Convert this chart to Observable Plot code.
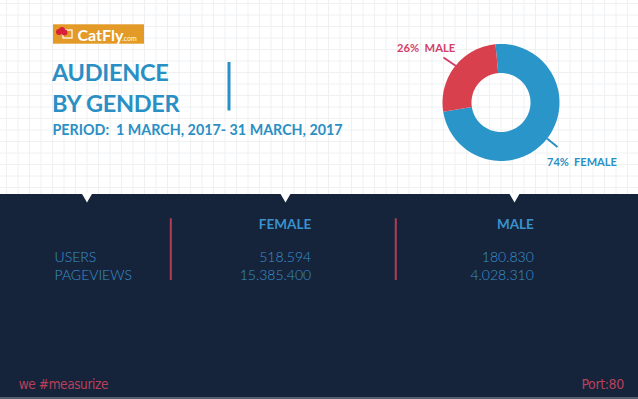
<!DOCTYPE html>
<html>
<head>
<meta charset="utf-8">
<script src="https://cdn.jsdelivr.net/npm/d3@7"></script>
<script src="https://cdn.jsdelivr.net/npm/@observablehq/plot@0.6"></script>
<style>
  html, body { margin: 0; padding: 0; background: #ffffff; }
  #chart svg { display: block; }
  .footer text { letter-spacing: -0.4px; }
  .tight text { letter-spacing: -0.3px; }
</style>
</head>
<body>
<div id="chart"></div>
<script>
// ---- data ----
const genders = ["FEMALE", "MALE"];
const shares = [74, 26];
const genderColors = ["#2a95c9", "#d8404e"];
const metrics = ["USERS", "PAGEVIEWS"];
const femaleValues = ["518.594", "15.385.400"];
const maleValues = ["180.830", "4.028.310"];
const titleLines = ["AUDIENCE", "BY GENDER"];
const periodText = "PERIOD:  1 MARCH, 2017- 31 MARCH, 2017";
const brandName = "CatFly";
const footerLeft = "we #measurize";
const footerRight = "Port:80";

// ---- layout ----
const W = 638, H = 399;
const panelTop = 194;
const cx = 500.5, cy = 102, rOuter = 58.5, rInner = 29.5;
const startDeg = -5.4;

// donut polygons computed from shares
const total = d3.sum(shares);
const slices = [];
let a0 = startDeg;
genders.forEach((g, i) => {
  const a1 = a0 + shares[i] / total * 360;
  const n = 90;
  const pts = [];
  for (let k = 0; k <= n; k++) {
    const a = (a0 + (a1 - a0) * k / n) * Math.PI / 180;
    pts.push({g, x: cx + rOuter * Math.sin(a), y: cy - rOuter * Math.cos(a)});
  }
  for (let k = n; k >= 0; k--) {
    const a = (a0 + (a1 - a0) * k / n) * Math.PI / 180;
    pts.push({g, x: cx + rInner * Math.sin(a), y: cy - rInner * Math.cos(a)});
  }
  slices.push(...pts);
  a0 = a1;
});

const gridX = d3.range(6, W, 11.5);
const gridY = d3.range(3, panelTop, 11.5);

const fontMain = "'Lato', 'Open Sans', sans-serif";
const fontNarrow = "'Liberation Sans Narrow', 'DejaVu Sans Condensed', sans-serif";
const blue = "#2a8fc4";
const tblBlue = "#3a92cc";
const pink = "#d23f6a";
const footPink = "#b8405a";

const chart = Plot.plot({
  width: W, height: H,
  margin: 0,
  x: {domain: [0, W], range: [0, W], axis: null},
  y: {domain: [0, H], range: [0, H], axis: null},
  style: {background: "#ffffff", overflow: "visible"},
  marks: [
    // background grid
    Plot.ruleX(gridX, {x: d => d, y1: 0, y2: panelTop, stroke: "#eceef1", strokeWidth: 0.9}),
    Plot.ruleY(gridY, {y: d => d, x1: 0, x2: W, stroke: "#eceef1", strokeWidth: 0.9}),
    // dark panel
    Plot.rect([0], {x1: 0, x2: W, y1: panelTop, y2: H, fill: "#16243b"}),
    Plot.rect([0], {x1: 0, x2: W, y1: H - 2, y2: H, fill: "#55606e"}),
    Plot.dot([86.5, 285, 514], {x: d => d, y: panelTop + 1.5, symbol: "triangle", rotate: 180, r: 4.2, fill: "#ffffff", stroke: "none"}),
    // logo
    Plot.rect([0], {x1: 53, x2: 144, y1: 24.3, y2: 43.7, fill: "#e39a26"}),
    Plot.rect([0], {x1: 63, x2: 72, y1: 30, y2: 38, fill: "none", stroke: "#ffffff", strokeWidth: 1.2}),
    Plot.dot([[58.5, 31.5], [61.5, 29.5], [64, 32]], {x: d => d[0], y: d => d[1], r: 3, fill: "#d8203a"}),
    Plot.text([brandName], {x: 77, y: 40, text: d => d, textAnchor: "start", lineAnchor: "bottom", fill: "#ffffff", fontSize: 16, fontWeight: "bold", fontFamily: fontMain}),
    Plot.text([".com"], {x: 121.5, y: 40, text: d => d, textAnchor: "start", lineAnchor: "bottom", fill: "#ffffff", fontSize: 7, fontFamily: fontMain}),
    // title
    Plot.text(titleLines, {x: 51.5, y: (d, i) => [80.7, 111][i], text: d => d, textAnchor: "start", lineAnchor: "bottom", fill: blue, fontSize: 23.5, fontWeight: "bold", fontFamily: fontMain, className: "tight"}),
    Plot.ruleX([228.5], {x: d => d, y1: 62, y2: 110.5, stroke: blue, strokeWidth: 3}),
    Plot.text([periodText], {x: 52, y: 134.3, text: d => d, textAnchor: "start", lineAnchor: "bottom", fill: blue, fontSize: 14.3, fontWeight: "bold", fontFamily: fontMain}),
    // donut
    Plot.line(slices, {x: "x", y: "y", z: "g", fill: d => genderColors[genders.indexOf(d.g)], stroke: "none", curve: "linear"}),
    // leader lines
    Plot.link([0], {x1: 443, y1: 57, x2: 455.5, y2: 65.5, stroke: pink, strokeWidth: 2}),
    Plot.link([0], {x1: 546.5, y1: 138, x2: 557, y2: 146.5, stroke: blue, strokeWidth: 2}),
    // donut labels
    Plot.text([`${shares[1]}%  ${genders[1]}`], {x: 396.5, y: 51, text: d => d, textAnchor: "start", lineAnchor: "bottom", fill: pink, fontSize: 11.2, fontWeight: "bold", fontFamily: fontMain}),
    Plot.text([`${shares[0]}%  ${genders[0]}`], {x: 546.5, y: 165, text: d => d, textAnchor: "start", lineAnchor: "bottom", fill: blue, fontSize: 11, fontWeight: "bold", fontFamily: fontMain}),
    // table separators
    Plot.ruleX([170.3, 395.3], {x: d => d, y1: 218.3, y2: 280, stroke: "#b43c52", strokeWidth: 2}),
    // table headers
    Plot.text([genders[0]], {x: 310.7, y: 228.7, text: d => d, textAnchor: "end", lineAnchor: "bottom", fill: tblBlue, fontSize: 13.5, fontWeight: "bold", fontFamily: fontMain}),
    Plot.text([genders[1]], {x: 533.3, y: 228.7, text: d => d, textAnchor: "end", lineAnchor: "bottom", fill: tblBlue, fontSize: 13.5, fontWeight: "bold", fontFamily: fontMain}),
    // table rows
    Plot.text(metrics, {x: 54, y: (d, i) => [261.7, 279.7][i], text: d => d, textAnchor: "start", lineAnchor: "bottom", fill: tblBlue, fontSize: 14, fontWeight: 300, fontFamily: fontMain}),
    Plot.text(femaleValues, {x: 310.7, y: (d, i) => [261.7, 279.7][i], text: d => d, textAnchor: "end", lineAnchor: "bottom", fill: tblBlue, fontSize: 14, fontWeight: 300, fontFamily: fontMain}),
    Plot.text(maleValues, {x: 533.3, y: (d, i) => [261.7, 279.7][i], text: d => d, textAnchor: "end", lineAnchor: "bottom", fill: tblBlue, fontSize: 14, fontWeight: 300, fontFamily: fontMain}),
    // footer
    Plot.text([footerLeft], {x: 18.3, y: 388.3, text: d => d, textAnchor: "start", lineAnchor: "bottom", fill: footPink, fontSize: 13.5, fontFamily: fontNarrow, className: "footer"}),
    Plot.text([footerRight], {x: 623.3, y: 388.3, text: d => d, textAnchor: "end", lineAnchor: "bottom", fill: footPink, fontSize: 14, fontFamily: fontNarrow, className: "footer"})
  ]
});
document.getElementById("chart").appendChild(chart);
</script>
</body>
</html>
